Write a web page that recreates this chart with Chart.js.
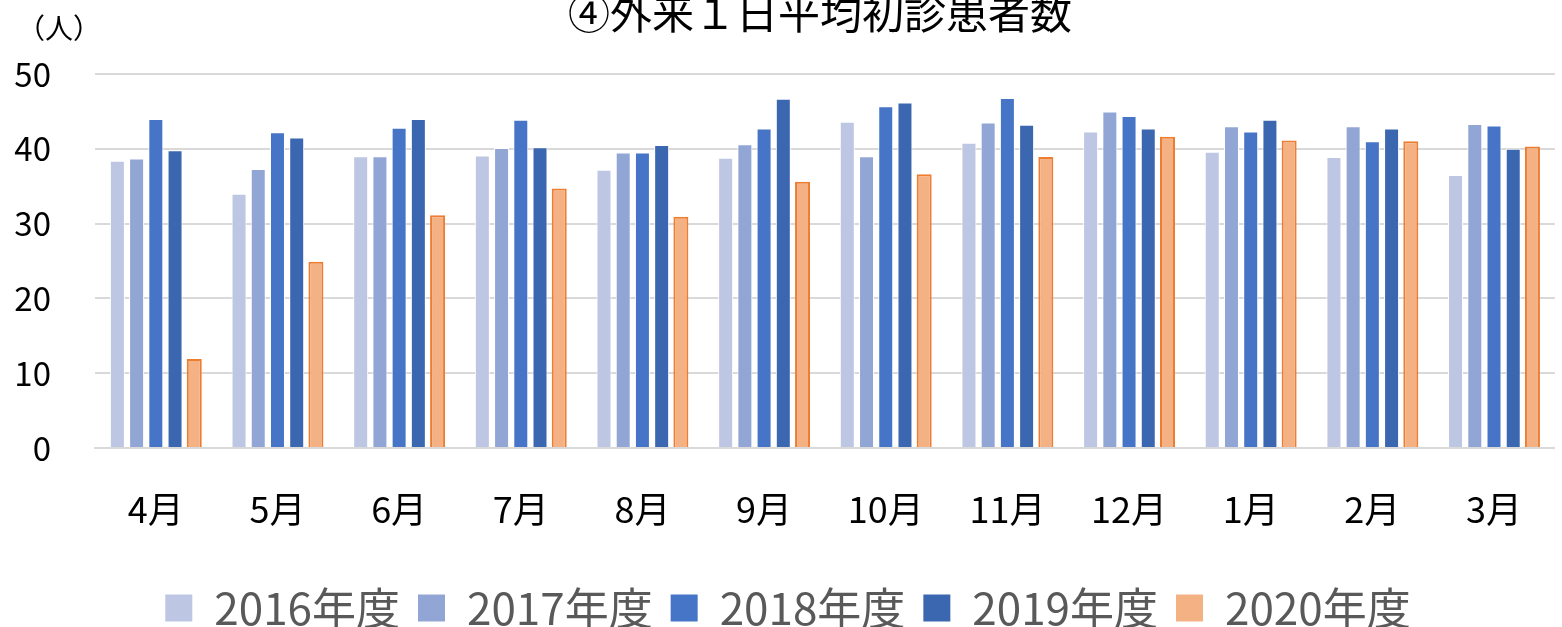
<!DOCTYPE html>
<html>
<head>
<meta charset="utf-8">
<script src="https://cdn.jsdelivr.net/npm/chart.js@4/dist/chart.umd.min.js"></script>
<style>
  html, body { margin: 0; padding: 0; background: #ffffff; overflow: hidden; }
  #wrap { position: relative; width: 1562px; height: 627px; }
</style>
</head>
<body>
<div id="wrap"><canvas id="chart" width="1562" height="627"></canvas></div>
<script>
// Chart data
const months = ['4月', '5月', '6月', '7月', '8月', '9月', '10月', '11月', '12月', '1月', '2月', '3月'];
const fy2016 = [38.4, 34.0, 39.0, 39.1, 37.2, 38.8, 43.6, 40.8, 42.3, 39.6, 38.9, 36.5];
const fy2017 = [38.7, 37.3, 39.0, 40.1, 39.5, 40.6, 39.0, 43.5, 45.0, 43.0, 43.0, 43.3];
const fy2018 = [44.0, 42.2, 42.8, 43.9, 39.5, 42.7, 45.7, 46.8, 44.4, 42.3, 41.0, 43.1];
const fy2019 = [39.8, 41.5, 44.0, 40.2, 40.5, 46.7, 46.2, 43.2, 42.7, 43.9, 42.7, 40.0];
const fy2020 = [11.9, 24.9, 31.1, 34.7, 30.9, 35.6, 36.6, 38.9, 41.6, 41.1, 41.0, 40.3];
const seriesNames = ['2016年度', '2017年度', '2018年度', '2019年度', '2020年度'];

const chartTitle = '④外来１日平均初診患者数';
const unitLabel = '（人）';

const FONT = "'Noto Sans CJK JP', 'Noto Sans', sans-serif";

// Title and unit text drawn on the canvas
const headerText = {
    id: 'headerText',
    afterDraw(chart) {
        const ctx = chart.ctx;
        ctx.save();
        ctx.fillStyle = '#000000';
        ctx.textAlign = 'center';
        ctx.textBaseline = 'middle';
        ctx.font = '42px ' + FONT;
        ctx.fillText(chartTitle, 820, 13);
        ctx.font = '28px ' + FONT;
        ctx.fillText(unitLabel, 59, 28);
        ctx.restore();
    }
};

// legend sits a little right of the canvas centre in the original
const legendShift = {
    id: 'legendShift',
    afterLayout(chart) {
        if (chart.legend) {
            chart.legend.left += 7;
            chart.legend.right += 7;
        }
    }
};

function blueSet(label, data, color) {
    return {
        label: label,
        data: data,
        backgroundColor: color,
        borderColor: '#ffffff',
        borderWidth: 1,
        categoryPercentage: 0.79,
        barPercentage: 0.78
    };
}

const ctx = document.getElementById('chart');
new Chart(ctx, {
    type: 'bar',
    data: {
        labels: months,
        datasets: [
            blueSet(seriesNames[0], fy2016, '#BDC6E2'),
            blueSet(seriesNames[1], fy2017, '#92A6D5'),
            blueSet(seriesNames[2], fy2018, '#4674C6'),
            blueSet(seriesNames[3], fy2019, '#3B66B0'),
            {
                label: seriesNames[4],
                data: fy2020,
                backgroundColor: '#F4B183',
                borderColor: '#ED7D31',
                borderWidth: 2,
                categoryPercentage: 0.79,
                barPercentage: 0.78
            }
        ]
    },
    options: {
        responsive: false,
        animation: false,
        layout: {
            padding: { top: 74, left: 0, right: 0, bottom: -13 }
        },
        plugins: {
            title: { display: false },
            tooltip: { enabled: false },
            legend: {
                position: 'bottom',
                labels: {
                    boxWidth: 27,
                    boxHeight: 27,
                    padding: 18,
                    color: '#595959',
                    font: { family: FONT, size: 44, lineHeight: 1.0 },
                    generateLabels: function(chart) {
                        return chart.data.datasets.map((ds, i) => ({
                            text: ds.label,
                            fillStyle: ds.backgroundColor,
                            strokeStyle: ds.backgroundColor,
                            lineWidth: 0,
                            fontColor: '#595959',
                            datasetIndex: i,
                            hidden: false
                        }));
                    }
                }
            }
        },
        scales: {
            x: {
                afterFit: function(scale) { scale.height = 120; },
                grid: { display: false, drawTicks: false },
                border: { display: true, color: '#d9d9d9', width: 2 },
                ticks: {
                    padding: 40,
                    color: '#000000',
                    font: { family: FONT, size: 36 },
                    maxRotation: 0,
                    autoSkip: false
                }
            },
            y: {
                min: 0,
                max: 50,
                afterFit: function(scale) { scale.width = 95; },
                grid: { color: '#d9d9d9', lineWidth: 2, drawTicks: false },
                border: { display: false },
                ticks: {
                    stepSize: 10,
                    padding: 44,
                    color: '#000000',
                    font: { family: FONT, size: 33 }
                }
            }
        }
    },
    plugins: [headerText, legendShift]
});
</script>
</body>
</html>
